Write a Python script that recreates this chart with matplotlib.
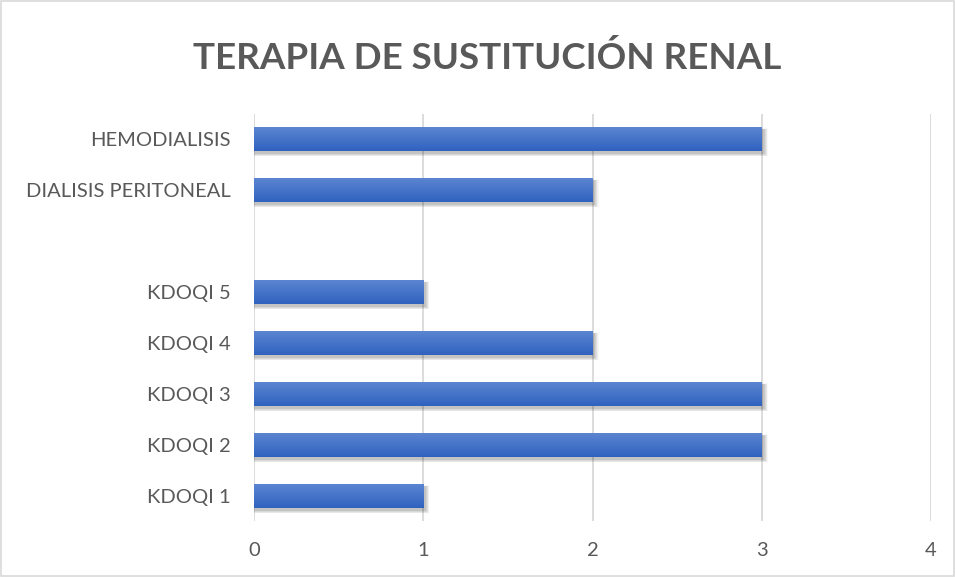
import numpy as np
import matplotlib
matplotlib.use('Agg')
import matplotlib.pyplot as plt
from matplotlib.patches import Rectangle
from matplotlib.colors import LinearSegmentedColormap

categories = ["KDOQI 1", "KDOQI 2", "KDOQI 3", "KDOQI 4", "KDOQI 5", "",
              "DIALISIS PERITONEAL", "HEMODIALISIS"]
values = [1, 3, 3, 2, 1, 0, 2, 3]
x_ticks = [0, 1, 2, 3, 4]
title = "TERAPIA DE SUSTITUCIÓN RENAL"

plt.rcParams['font.family'] = ['Lato', 'DejaVu Sans']

fig = plt.figure(figsize=(9.55, 5.77), dpi=100, facecolor='white')
ax = fig.add_axes([0.266, 0.0962, 0.709, 0.707])

y = np.arange(len(categories))
bars = ax.barh(y, values, height=0.47, color='none', zorder=3)

grad = LinearSegmentedColormap.from_list('g', ['#2f62bf', '#5c85d1'])
img = np.linspace(0, 1, 64).reshape(-1, 1)
for b in bars:
    if b.get_width() <= 0:
        continue
    x0, y0 = b.get_x(), b.get_y()
    w, h = b.get_width(), b.get_height()
    # soft shadow, layered rectangles growing outwards
    for i in range(8):
        d = 0.008 * i
        ax.add_patch(Rectangle((x0 + 0.005 - d * 0.4, y0 - 0.05 - d), w + 0.008 + d * 0.8, h + d * 1.4,
                               facecolor='black', edgecolor='none', alpha=0.03, zorder=2))
    ax.imshow(img, cmap=grad, aspect='auto', extent=(x0, x0 + w, y0, y0 + h),
              origin='lower', zorder=4, interpolation='bilinear')

ax.set_xlim(0, 4)
ax.set_ylim(-0.5, len(categories) - 0.5)
ax.set_xticks(x_ticks)
ax.set_yticks(y)
ax.set_yticklabels(categories)
ax.grid(axis='x', color='#d9d9d9', linewidth=1.3, zorder=0)
ax.set_axisbelow(True)
for s in ax.spines.values():
    s.set_visible(False)
ax.tick_params(axis='both', length=0, labelsize=14.5, labelcolor='#595959')
ax.tick_params(axis='x', pad=15)
ax.tick_params(axis='y', pad=17)

fig.text(0.51, 0.899, title, ha='center', va='center', fontsize=26.5,
         fontweight='bold', color='#595959')

fig.add_artist(Rectangle((0.001, 0.001), 0.998, 0.998, transform=fig.transFigure,
                         fill=False, edgecolor='#d9d9d9', linewidth=1.2))

fig.savefig('out.png', dpi=100, facecolor='white')
